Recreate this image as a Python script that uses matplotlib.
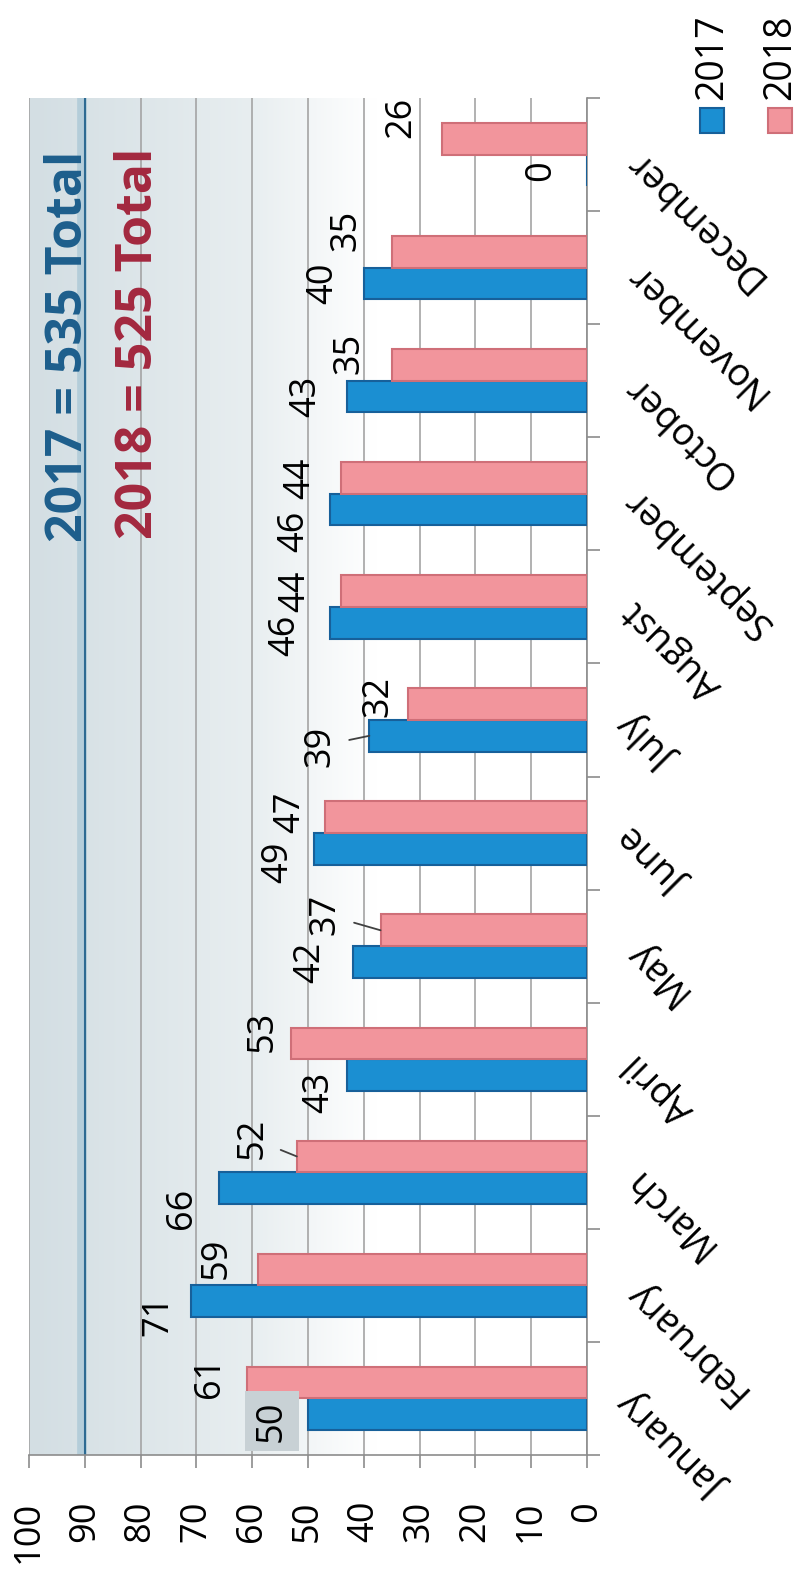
import matplotlib

matplotlib.use('Agg')
from matplotlib import pyplot as plt
from matplotlib.patches import Rectangle
from matplotlib.colors import LinearSegmentedColormap
import numpy as np

plt.rcParams['font.family'] = ['Open Sans', 'DejaVu Sans']

# data
months = ['January', 'February', 'March', 'April', 'May', 'June',
          'July', 'August', 'September', 'October', 'November', 'December']
counts_2017 = [50, 71, 66, 43, 42, 49, 39, 46, 46, 43, 40, 0]
counts_2018 = [61, 59, 52, 53, 37, 47, 32, 44, 44, 35, 35, 26]
series_names = ['2017', '2018']
value_ticks = [0, 10, 20, 30, 40, 50, 60, 70, 80, 90, 100]

# where the data labels sit relative to the bar end (value units / category units)
label_dx_2017 = [6.5, 5.9, 6.6, 5.0, 7.6, 6.4, 8.8, 8.0, 6.5, 7.4, 7.3, 8.2]
label_dy_2017 = [-0.06, -0.12, -0.18, -0.15, 0.0, -0.12, -0.09, -0.11, -0.19, 0.0, 0.0, 0.0]
label_dx_2018 = [6.6, 7.3, 8.0, 5.2, 9.9, 6.2, 5.3, 8.3, 7.3, 7.5, 8.2, 7.2]
label_dy_2018 = [0.05, 0.10, 0.16, 0.11, 0.14, 0.04, 0.07, 0.0, 0.0, 0.10, 0.19, 0.19]
leaders_2017 = ['July']
leaders_2018 = ['March', 'May']

blue, blue_edge = '#1b8fd2', '#17609a'
pink, pink_edge = '#f2959c', '#cf6f78'
grey = '#8c8c8c'

W, H = 800, 1576
fig = plt.figure(figsize=(W / 100, H / 100), dpi=100)
ax = fig.add_axes([29 / W, 121 / H, 558 / W, 1357 / H])

# the scan left a blue-grey haze over the far side of the plot
bg = LinearSegmentedColormap.from_list('bg', [(0, '#d3dee3'), (0.4, '#e8eef0'),
                                              (0.62, '#ffffff'), (1, '#ffffff')])
ax.imshow(np.linspace(0, 1, 256).reshape(1, -1), cmap=bg, aspect='auto',
          extent=(0, 1, 0, 1), transform=ax.transAxes, zorder=0)

y = np.arange(len(months))
h = 0.28
bars17 = ax.barh(y - h / 2, counts_2017, height=h, color=blue, edgecolor=blue_edge,
                 linewidth=1.5, zorder=3)
bars18 = ax.barh(y + h / 2, counts_2018, height=h, color=pink, edgecolor=pink_edge,
                 linewidth=1.5, zorder=3)

ax.set_xlim(100, 0)
ax.set_ylim(-0.5, len(months) - 0.5)

ax.set_xticks(value_ticks)
ax.grid(axis='x', color='#a4a4a4', linewidth=1.2, zorder=1)
ax.axvline(90.5, color='#93bbcf', linewidth=7, alpha=0.5, zorder=1.5)
ax.axvline(90, color='#2d6a92', linewidth=1.5, zorder=1.6)
ax.tick_params(axis='x', direction='out', length=9, width=1.2, color=grey,
               pad=24, labelsize=26, labelrotation=90)

ax.yaxis.tick_right()
ax.set_yticks(y)
ax.set_yticklabels(months, rotation=135, rotation_mode='anchor', ha='right',
                   va='center', fontsize=27)
ax.set_yticks(np.arange(-0.5, len(months), 1), minor=True)
ax.tick_params(axis='y', which='major', length=0, pad=31)
ax.tick_params(axis='y', which='minor', length=9, width=1.2, color=grey,
               direction='out', right=True, left=False)

for side in ['left', 'top']:
    ax.spines[side].set_visible(False)
for side in ['right', 'bottom']:
    ax.spines[side].set_color(grey)
    ax.spines[side].set_linewidth(1.2)


def put_labels(counts, offset, dxs, dys, leaders, first_box=False):
    for i, v in enumerate(counts):
        yy = i + offset
        pos = (v + dxs[i], yy + dys[i])
        box = None
        if first_box and i == 0:
            box = dict(boxstyle='square,pad=0.25', facecolor='#c8d1d5', edgecolor='none')
        if months[i] in leaders:
            ax.annotate(str(v), xy=(v, yy), xytext=pos, rotation=90, ha='center',
                        va='center', fontsize=26, zorder=4,
                        arrowprops=dict(arrowstyle='-', color='#404040', lw=1.3,
                                        shrinkA=6, shrinkB=0))
        else:
            ax.text(pos[0], pos[1], str(v), rotation=90, ha='center', va='center',
                    fontsize=26, zorder=4, bbox=box)


put_labels(counts_2017, -h / 2, label_dx_2017, label_dy_2017, leaders_2017, first_box=True)
put_labels(counts_2018, h / 2, label_dx_2018, label_dy_2018, leaders_2018)

# totals written across the top of the chart
ax.text(0.0717, 0.817, f'{series_names[0]} = {sum(counts_2017)} Total', transform=ax.transAxes,
        rotation=90, ha='center', va='center', fontsize=36, fontweight='bold', color='#1d5e8c',
        zorder=5)
ax.text(0.197, 0.819, f'{series_names[1]} = {sum(counts_2018)} Total', transform=ax.transAxes,
        rotation=90, ha='center', va='center', fontsize=36, fontweight='bold', color='#a3283f',
        zorder=5)

# legend, drawn by hand so it can stand on its side like the rest
for k, (name, fc, ec) in enumerate(zip(series_names, [blue, pink], [blue_edge, pink_edge])):
    x0 = (700 + 68 * k) / W
    fig.patches.append(Rectangle((x0, (H - 133) / H), 24 / W, 25 / H, transform=fig.transFigure,
                                 facecolor=fc, edgecolor=ec, linewidth=1.5))
    fig.text(x0 + 12 / W, (H - 100) / H, name, rotation=90, ha='center', va='bottom',
             fontsize=27)

fig.savefig('out.png', dpi=100, facecolor='white')
